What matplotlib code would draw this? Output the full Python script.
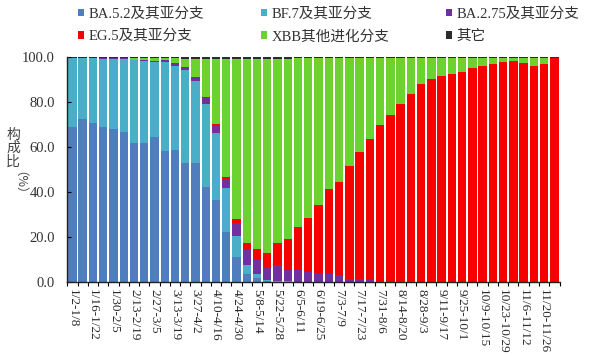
import matplotlib
matplotlib.use("Agg")
import matplotlib.pyplot as plt
import numpy as np

# weekly sequencing results, 2023 (share of each lineage, %)
weeks = ["1/2-1/8", "1/9-1/15", "1/16-1/22", "1/23-1/29", "1/30-2/5", "2/6-2/12",
         "2/13-2/19", "2/20-2/26", "2/27-3/5", "3/6-3/12", "3/13-3/19", "3/20-3/26",
         "3/27-4/2", "4/3-4/9", "4/10-4/16", "4/17-4/23", "4/24-4/30", "5/1-5/7",
         "5/8-5/14", "5/15-5/21", "5/22-5/28", "5/29-6/4", "6/5-6/11", "6/12-6/18",
         "6/19-6/25", "6/26-7/2", "7/3-7/9", "7/10-7/16", "7/17-7/23", "7/24-7/30",
         "7/31-8/6", "8/7-8/13", "8/14-8/20", "8/21-8/27", "8/28-9/3", "9/4-9/10",
         "9/11-9/17", "9/18-9/24", "9/25-10/1", "10/2-10/8", "10/9-10/15", "10/16-10/22",
         "10/23-10/29", "10/30-11/5", "11/6-11/12", "11/13-11/19", "11/20-11/26", "11/27-12/3"]

ba52 = [69.0, 72.4, 70.5, 69.0, 68.0, 66.7, 61.9, 61.8, 64.3, 58.2, 58.7, 52.9,
        52.7, 42.4, 36.4, 22.4, 11.0, 3.6, 1.6, 0.5, 0.2, 0.1, 0.1, 0.0,
        0, 0, 0, 0, 0, 0, 0, 0, 0, 0, 0, 0, 0, 0, 0, 0, 0, 0, 0, 0, 0, 0, 0, 0]
bf7 = [30.4, 27.0, 28.9, 30.3, 31.3, 32.5, 36.6, 36.5, 33.5, 39.4, 37.4, 41.3,
       36.6, 36.7, 30.0, 19.2, 9.4, 4.0, 2.0, 0.5, 0.3, 0.2, 0.1, 0.0,
       0, 0, 0, 0, 0, 0, 0, 0, 0, 0, 0, 0, 0, 0, 0, 0, 0, 0, 0, 0, 0, 0, 0, 0]
ba275 = [0.1, 0.1, 0.1, 0.2, 0.2, 0.3, 0.3, 0.4, 0.5, 1.0, 1.2, 1.3,
         1.8, 3.0, 3.4, 4.2, 6.0, 6.6, 6.2, 5.1, 7.1, 5.0, 5.1, 4.4,
         3.9, 3.6, 3.0, 1.5, 1.2, 1.0, 0.6, 0.5, 0.4, 0.3, 0.2, 0.2,
         0.1, 0, 0, 0, 0, 0, 0, 0, 0, 0, 0, 0]
eg5 = [0, 0, 0, 0, 0, 0, 0, 0, 0, 0, 0, 0,
       0, 0.1, 0.3, 1.0, 1.6, 3.0, 4.9, 6.9, 9.9, 14.0, 19.0, 23.9,
       30.2, 37.6, 41.6, 50.1, 56.6, 62.6, 69.0, 73.7, 78.7, 83.1, 87.7, 89.9,
       91.6, 92.4, 93.5, 95.0, 96.1, 96.7, 97.6, 98.4, 97.2, 96.1, 96.9, 99.4]
xbb = [0, 0, 0, 0, 0, 0.1, 0.8, 0.9, 1.3, 1.0, 2.1, 3.8,
       8.2, 17.1, 29.2, 52.5, 71.3, 82.1, 84.6, 86.3, 81.8, 80.0, 75.1, 71.1,
       65.4, 58.3, 55.0, 48.0, 41.8, 36.0, 30.0, 25.4, 20.5, 16.2, 11.7, 9.5,
       7.9, 7.2, 6.1, 4.6, 3.5, 2.9, 2.0, 1.2, 2.4, 3.3, 2.7, 0.3]
other = [0.5, 0.5, 0.5, 0.5, 0.5, 0.4, 0.4, 0.4, 0.4, 0.4, 0.6, 0.7,
         0.7, 0.7, 0.7, 0.7, 0.7, 0.7, 0.7, 0.7, 0.7, 0.7, 0.6, 0.6,
         0.5, 0.5, 0.4, 0.4, 0.4, 0.4, 0.4, 0.4, 0.4, 0.4, 0.4, 0.4,
         0.4, 0.4, 0.4, 0.4, 0.4, 0.4, 0.4, 0.4, 0.4, 0.6, 0.4, 0.3]

series = [
    ("BA.5.2及其亚分支", ba52, "#4f7dbd"),
    ("BF.7及其亚分支", bf7, "#4aaec8"),
    ("BA.2.75及其亚分支", ba275, "#7030a0"),
    ("EG.5及其亚分支", eg5, "#f70000"),
    ("XBB其他进化分支", xbb, "#6cd230"),
    ("其它", other, "#2b2b2b"),
]

fonts = ["Liberation Serif", "Noto Sans CJK SC"]
plt.rcParams["font.family"] = fonts

fig = plt.figure(figsize=(6.0, 3.56), dpi=100)
ax = fig.add_axes([0.1122, 0.2079, 0.8203, 0.632])

x = np.arange(len(weeks))
bottom = np.zeros(len(weeks))
handles = {}
for name, vals, col in series:
    vals = np.array(vals, dtype=float)
    b = ax.bar(x, vals, bottom=bottom, width=0.82, color=col, linewidth=0)
    handles[name] = b
    bottom += vals

ax.set_xlim(-0.5, len(weeks) - 0.5)
ax.set_ylim(0, 100)
ax.set_yticks(np.arange(0, 101, 20))
ax.set_yticklabels(["%.1f" % v for v in np.arange(0, 101, 20)], fontsize=10.5)
ax.set_xticks(x[::2])
ax.set_xticklabels(weeks[::2], rotation=270, fontsize=9.5, color="#2a2a2a")
ax.set_xticks(np.arange(-0.5, len(weeks), 1), minor=True)
ax.tick_params(axis="x", which="major", length=0, pad=5)
ax.tick_params(axis="x", which="minor", length=3, width=0.8, direction="out")
ax.tick_params(axis="y", length=3, width=0.8, direction="in", pad=9,
               labelcolor="#333333")
for s in ["top", "right"]:
    ax.spines[s].set_visible(False)
for s in ["left", "bottom"]:
    ax.spines[s].set_color("#222222")
    ax.spines[s].set_linewidth(1.0)

# vertical y label
fig.text(0.022, 0.584, "构\n成\n比", fontsize=10, ha="center", va="center",
         family=["Noto Sans CJK SC"], linespacing=0.95, color="#444444")
fig.text(0.022, 0.469, "（%）", fontsize=9, ha="center", va="center", rotation=270,
         family=["Noto Sans CJK SC", "Liberation Serif"], color="#444444")

order = ["BA.5.2及其亚分支", "EG.5及其亚分支", "BF.7及其亚分支",
         "XBB其他进化分支", "BA.2.75及其亚分支", "其它"]
fig.legend([handles[n] for n in order], order, ncol=3, loc="upper left",
           bbox_to_anchor=(0.118, 1.0), frameon=False, fontsize=10.5,
           handlelength=0.42, handleheight=0.42, handletextpad=0.3,
           columnspacing=3.9, labelspacing=0.62, borderaxespad=0.1,
           labelcolor="#333333")

fig.savefig("out.png", dpi=100)
